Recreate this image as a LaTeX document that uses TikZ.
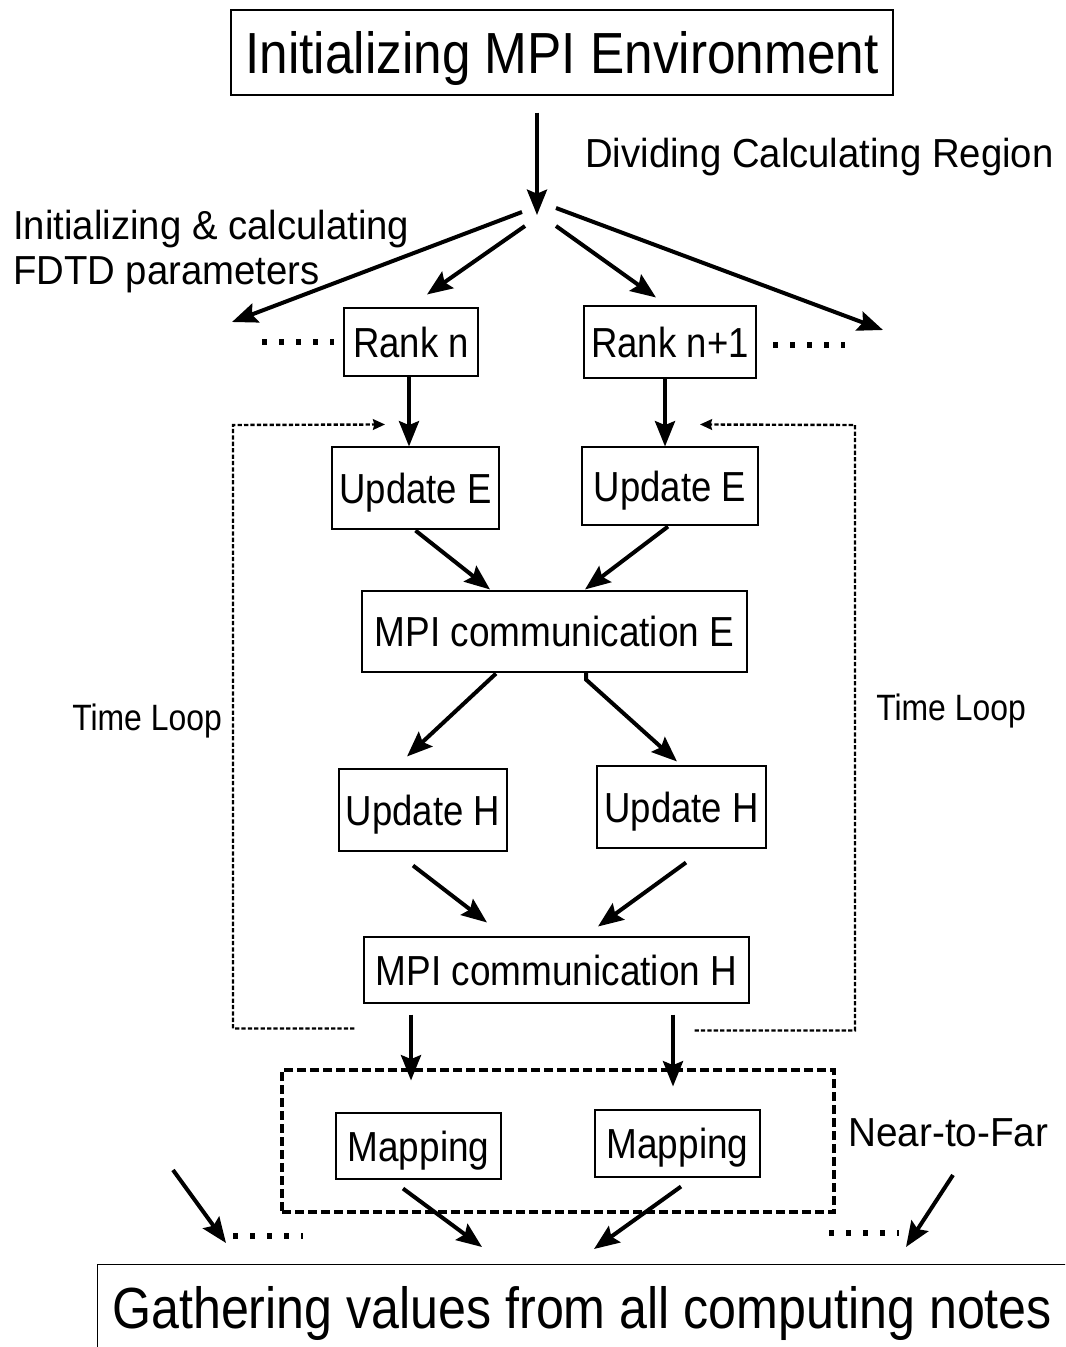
\documentclass[tikz,border=0pt]{standalone}
\usepackage{fontspec}
\usepackage{graphicx}
\setmainfont{Liberation Sans}
\usetikzlibrary{arrows.meta,calc}

\begin{document}
\begin{tikzpicture}[x=0.75pt,y=-0.75pt,
  sz/.style 2 args={minimum width=#1*0.75pt,minimum height=#2*0.75pt},
  box/.style={draw,line width=0.8pt,inner sep=0pt,text height=22.5pt,text depth=0pt,
              font=\fontsize{31.5}{36}\selectfont},
  bigbox/.style={draw,line width=0.8pt,inner sep=0pt,text height=31pt,text depth=0pt,
              font=\fontsize{43.5}{48}\selectfont},
  arr/.style={line width=3pt,-{Stealth[length=19pt,width=15pt,inset=3pt]}},
  loopline/.style={line width=1.8pt,dash pattern=on 3.2pt off 1.6pt},
  looparr/.style={loopline,-{Stealth[length=9pt,width=8pt,inset=1pt]}},
  leader/.style={line width=4.2pt,dash pattern=on 4pt off 8.75pt},
  lbl/.style={inner sep=0pt,anchor=base west,font=\fontsize{30.4}{34}\selectfont},
]
\useasboundingbox (0,0) rectangle (1065,1347);
\newcommand\sx[2]{\scalebox{#1}[1]{#2}}

% header and footer boxes
\node[bigbox,sz={662}{85}] (title) at (562,52.5) {\sx{0.885}{Initializing MPI Environment}};
\begin{scope}
  \clip (0,0) rectangle (1065,1347);
  \node[draw,line width=0.8pt,inner sep=0pt,sz={1100}{140},anchor=north west] (gather) at (97,1264) {};
\end{scope}
\node[inner sep=0pt,anchor=base west,font=\fontsize{43.5}{48}\selectfont] (gathertxt) at (112,1328)
  {\sx{0.865}{Gathering values from all computing notes}};

% process boxes
\node[box,sz={134}{68}] (rankn)  at (411,342) {\sx{0.87}{Rank n}};
\node[box,sz={172}{72}] (rankn1) at (670,342) {\sx{0.87}{Rank n+1}};
\node[box,sz={167}{82}] (updEL)  at (415.5,488) {\sx{0.87}{Update E}};
\node[box,sz={176}{78}] (updER)  at (670,486) {\sx{0.87}{Update E}};
\node[box,sz={385}{81}] (mpie)   at (554.5,631.5) {\sx{0.88}{MPI communication E}};
\node[box,sz={168}{82}] (updHL)  at (423,810) {\sx{0.87}{Update H}};
\node[box,sz={169}{82}] (updHR)  at (681.5,807) {\sx{0.87}{Update H}};
\node[box,sz={385}{66}] (mpih)   at (556.5,970) {\sx{0.88}{MPI communication H}};
\node[draw,line width=2.4pt,dash pattern=on 6.75pt off 3pt,sz={552}{142}] (nearfar) at (558,1141) {};
\node[box,sz={165}{66}] (mapL)   at (418.5,1146) {\sx{0.88}{Mapping}};
\node[box,sz={165}{67}] (mapR)   at (677.5,1143.5) {\sx{0.88}{Mapping}};

% labels
\node[lbl] (divlbl) at (585,167) {\sx{0.945}{Dividing Calculating Region}};
\node[lbl] (initlbl1) at (13,239) {\sx{0.945}{Initializing \& calculating}};
\node[lbl] (initlbl2) at (13,284) {\sx{0.945}{FDTD parameters}};
\node[lbl,font=\fontsize{27.5}{31}\selectfont] (loopL) at (72,730) {\sx{0.87}{Time Loop}};
\node[lbl,font=\fontsize{27.5}{31}\selectfont] (loopR) at (876,720) {\sx{0.87}{Time Loop}};
\node[lbl] (nflbl) at (848,1146) {\sx{0.955}{Near-to-Far}};

% free ends
\coordinate (split) at (537,215);
\coordinate (farL) at (232,322);
\coordinate (farR) at (883,330);
\coordinate (inL) at (173,1170);
\coordinate (inR) at (953,1175);
\coordinate (cornerL) at (233,425);
\coordinate (cornerR) at (855,425);

% splitting the region
\draw[arr] ($(title.south)+(-25,17)$) -- (split);
\draw[arr] ($(split)+(-15,-3)$) -- (farL);
\draw[arr] ($(split)+(-12,11)$) -- ($(rankn.north)+(16,-13)$);
\draw[arr] ($(split)+(19,11)$) -- ($(rankn1.north)+(-14,-8)$);
\draw[arr] ($(split)+(19,-7)$) -- (farR);

% elided ranks
\draw[leader] (262,342) -- (334,342);
\draw[leader] (773,345) -- (845,345);
\draw[leader] (233,1236) -- (303,1236);
\draw[leader] (829,1233) -- (899,1233);

% main flow
\draw[arr] ($(rankn.south)+(-2,0)$) -- ($(rankn.south |- updEL.north)+(-2,0)$);
\draw[arr] ($(rankn1.south)+(-5,0)$) -- ($(rankn1.south |- updER.north)+(-5,0)$);
\draw[arr] ($(updEL.south)+(0,1)$) -- ($(mpie.north)+(-64.5,-1)$);
\draw[arr] ($(updER.south)+(-2,1)$) -- ($(mpie.north)+(30.5,-1)$);
\draw[arr] ($(mpie.south)+(-58.5,1)$) -- ($(updHL.north)+(-16,-12)$);
\draw[arr] ($(mpie.south)+(31.5,0)$) -- ++(0,7) -- ($(updHR.north)+(-4.5,-4)$);
\draw[arr] ($(updHL.south)+(-10,14)$) -- ($(mpih.north)+(-69.5,-14)$);
\draw[arr] ($(updHR.south)+(4.5,14)$) -- ($(mpih.north)+(41.5,-10)$);
\draw[arr] ($(mpih.south)+(-145.5,11)$) -- ($(mapL.north)+(-7.5,-32)$);
\draw[arr] ($(mpih.south)+(116.5,11)$) -- ($(mapR.north)+(-4.5,-23)$);
\draw[arr] ($(mapL.south)+(-15.5,9)$) -- ($(gather.north west)+(385,-17)$);
\draw[arr] ($(mapR.south)+(3.5,9)$) -- ($(gather.north west)+(497,-15)$);
\draw[arr] (inL) -- ($(gather.north west)+(129,-21)$);
\draw[arr] (inR) -- ($(gather.north west)+(809,-17)$);

% time loops
\draw[looparr] ($(mpih.south west)+(-9,25)$) -| (cornerL) -- ($(updEL.north)+(-30.5,-22)$);
\draw[looparr] ($(mpih.south east)+(-55,27)$) -| (cornerR) -- ($(updER.north)+(30,-22)$);
\end{tikzpicture}
\end{document}
